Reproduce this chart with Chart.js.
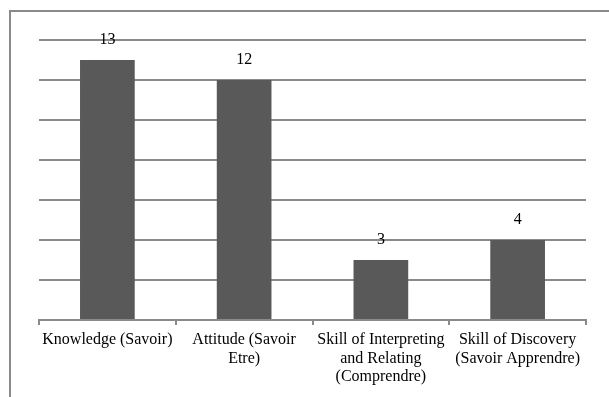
<!DOCTYPE html>
<html>
<head>
<meta charset="utf-8">
<script src="https://cdn.jsdelivr.net/npm/chart.js@4"></script>
<style>
  html, body { margin: 0; padding: 0; background: #fff; }
  #wrap { position: relative; width: 609px; height: 397px; overflow: hidden; }
</style>
</head>
<body>
<div id="wrap"><canvas id="chart" width="609" height="397"></canvas></div>
<script>
// chart data
const categories = [
  ['Knowledge (Savoir)'],
  ['Attitude (Savoir', 'Etre)'],
  ['Skill of Interpreting', 'and Relating', '(Comprendre)'],
  ['Skill of Discovery', '(Savoir Apprendre)']
];
const counts = [13, 12, 3, 4];
const yMin = 0;
const yMax = 14;
const yStep = 2;

const serif = '"Liberation Serif", "Times New Roman", serif';

// frame: only the top and left edges show in the picture
const framePlugin = {
  id: 'frame',
  beforeDraw(chart) {
    const ctx = chart.ctx;
    ctx.save();
    ctx.strokeStyle = '#8a8a8a';
    ctx.lineWidth = 2;
    ctx.beginPath();
    ctx.moveTo(10, 397);
    ctx.lineTo(10, 11);
    ctx.lineTo(609, 11);
    ctx.stroke();
    ctx.restore();
  }
};

// value labels above each bar
const valueLabels = {
  id: 'valueLabels',
  afterDatasetsDraw(chart) {
    const ctx = chart.ctx;
    const meta = chart.getDatasetMeta(0);
    ctx.save();
    ctx.fillStyle = '#000';
    ctx.font = '16px ' + serif;
    ctx.textAlign = 'center';
    ctx.textBaseline = 'middle';
    meta.data.forEach((bar, i) => {
      ctx.fillText(String(counts[i]), bar.x, bar.y - 20);
    });
    ctx.restore();
  }
};

new Chart(document.getElementById('chart'), {
  type: 'bar',
  data: {
    labels: categories,
    datasets: [{
      data: counts,
      backgroundColor: '#595959',
      borderWidth: 0,
      barPercentage: 0.4,
      categoryPercentage: 1
    }]
  },
  options: {
    responsive: false,
    animation: false,
    events: [],
    layout: { padding: { left: 39, right: 23, top: 40, bottom: 0 } },
    plugins: {
      legend: { display: false },
      tooltip: { enabled: false },
      title: { display: false }
    },
    scales: {
      x: {
        offset: true,
        grid: {
          offset: true,
          drawOnChartArea: false,
          drawTicks: true,
          tickLength: 5,
          color: '#8a8a8a',
          lineWidth: 2
        },
        border: { display: true, color: '#8a8a8a', width: 2 },
        ticks: {
          color: '#000',
          font: { family: serif, size: 16, lineHeight: 1.15 },
          padding: 6,
          maxRotation: 0,
          autoSkip: false
        },
        afterFit(scale) { scale.height = 77; }
      },
      y: {
        min: yMin,
        max: yMax,
        ticks: { display: false, stepSize: yStep },
        grid: { color: '#8a8a8a', lineWidth: 2, drawTicks: false },
        border: { display: false },
        afterFit(scale) { scale.width = 0; }
      }
    }
  },
  plugins: [framePlugin, valueLabels]
});
</script>
</body>
</html>
